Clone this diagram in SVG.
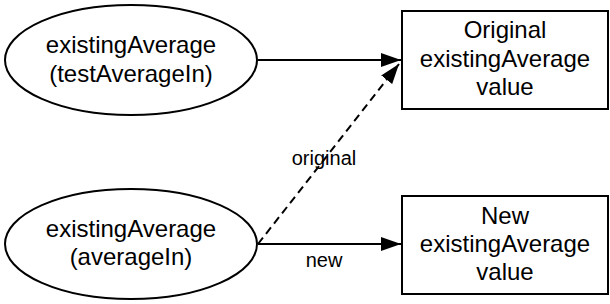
<svg xmlns="http://www.w3.org/2000/svg" width="610" height="304" viewBox="0 0 610 304">
<style>
.shape{fill:#fff;stroke:#000;stroke-width:2}
.t{font-family:"Liberation Sans",Arial,sans-serif;font-size:24px;fill:#000;text-anchor:middle}
.l{font-family:"Liberation Sans",Arial,sans-serif;font-size:20px;fill:#000;text-anchor:middle}
.e{stroke:#000;stroke-width:2;fill:none}
</style>
<defs>
<marker id="arr" viewBox="0 0 20 14" refX="20" refY="7" markerWidth="20" markerHeight="14" markerUnits="userSpaceOnUse" orient="auto">
<path d="M0,0 L20,7 L0,14 Z" fill="#000"/>
</marker>
</defs>
<g id="n1">
<ellipse class="shape" cx="131" cy="60" rx="126" ry="55"/>
<text class="t" x="131" y="53">existingAverage</text>
<text class="t" x="131" y="82">(testAverageIn)</text>
</g>
<g id="n2">
<ellipse class="shape" cx="131" cy="244" rx="126" ry="55"/>
<text class="t" x="131" y="237">existingAverage</text>
<text class="t" x="131" y="265">(averageIn)</text>
</g>
<g id="n3">
<rect class="shape" x="402" y="11" width="206" height="98"/>
<text class="t" x="505" y="38">Original</text>
<text class="t" x="505" y="67">existingAverage</text>
<text class="t" x="505" y="95">value</text>
</g>
<g id="n4">
<rect class="shape" x="402" y="196" width="206" height="98"/>
<text class="t" x="505" y="224">New</text>
<text class="t" x="505" y="252">existingAverage</text>
<text class="t" x="505" y="280">value</text>
</g>
<g id="connectors">
<line class="e" x1="258" y1="60" x2="401" y2="60" marker-end="url(#arr)"/>
<line class="e" x1="258" y1="244" x2="399" y2="64" stroke-dasharray="8,5" marker-end="url(#arr)"/>
<line class="e" x1="258" y1="244" x2="401" y2="244" marker-end="url(#arr)"/>
<text class="l" x="324" y="165">original</text>
<text class="l" x="324" y="267">new</text>
</g>
</svg>
